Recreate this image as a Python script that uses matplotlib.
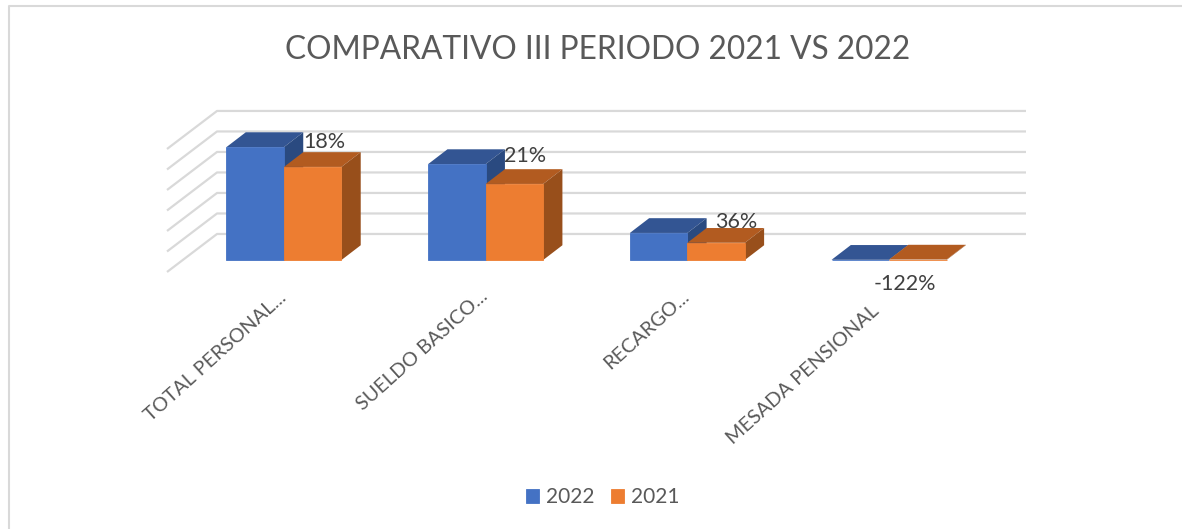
"""Comparativo III periodo 2021 vs 2022, Excel style 3D columns drawn on a 2D axes."""

import matplotlib
matplotlib.use('Agg')
import matplotlib.pyplot as plt
from matplotlib.lines import Line2D
from matplotlib.transforms import ScaledTranslation

plt.rcParams['font.family'] = ['Lato', 'DejaVu Sans']

categories = ['TOTAL PERSONAL...', 'SUELDO BASICO...', 'RECARGO...', 'MESADA PENSIONAL']
values_2022 = [551, 468, 132, 1]
values_2021 = [454, 371, 84, 2.2]
pct_labels = ['18%', '21%', '36%', '-122%']
grid_levels = [0, 100, 200, 300, 400, 500, 600]

W, H = 1182, 529
fig = plt.figure(figsize=(W / 100, H / 100), dpi=100)
# axes box in pixels: 167..1026 across, 111..272 down
ax = fig.add_axes([167 / W, 1 - 272 / H, (1026 - 167) / W, (272 - 111) / H])
ax.set_xlim(-0.58, 3.679)
ax.set_ylim(-58.5, 726.8)
ax.set_facecolor('none')
for s in ax.spines.values():
    s.set_visible(False)
ax.set_yticks([])

GRID = '#d9d9d9'
WALL_X, WALL_Y = -0.332, 127
FRONT_X, FRONT_Y = -0.58, -58.5
BAR_W = 0.285
DEPTH_X, DEPTH_Y = 0.0955, 72

# back wall and left wall lines
for g in grid_levels:
    ax.plot([FRONT_X, WALL_X, 3.679], [g + FRONT_Y, g + WALL_Y, g + WALL_Y],
            color=GRID, lw=1.6, clip_on=False, zorder=1, solid_capstyle='butt')


def depth_faces(x0, v, top_color, side_color, z):
    # top and right side of one column
    x1 = x0 + BAR_W
    ax.fill([x0, x1, x1 + DEPTH_X, x0 + DEPTH_X],
            [v, v, v + DEPTH_Y, v + DEPTH_Y], color=top_color, lw=0, zorder=z)
    ax.fill([x1, x1 + DEPTH_X, x1 + DEPTH_X, x1],
            [0, DEPTH_Y, v + DEPTH_Y, v], color=side_color, lw=0, zorder=z)


x_pos = list(range(len(categories)))
for i in x_pos:
    depth_faces(i - BAR_W, values_2022[i], '#335593', '#2a4a80', 2)
    depth_faces(i, values_2021[i], '#b25b20', '#984f1b', 4)

ax.bar([i - BAR_W / 2 for i in x_pos], values_2022, BAR_W, color='#4472c4',
       edgecolor='#4472c4', linewidth=0.6, label='2022', zorder=3)
ax.bar([i + BAR_W / 2 for i in x_pos], values_2021, BAR_W, color='#ed7d31',
       edgecolor='#ed7d31', linewidth=0.6, label='2021', zorder=5)

# data labels sit by hand next to the orange column, as in the original
label_shift = [(12, 25), (11, 28), (20, 21), (-13, -24)]
for i, txt in enumerate(pct_labels):
    ax.annotate(txt, (i + BAR_W / 2, values_2021[i]),
                xytext=(label_shift[i][0] * 0.72, label_shift[i][1] * 0.72),
                textcoords='offset points', ha='center', va='center',
                fontsize=15.5, color='#404040', zorder=6)

ax.set_xticks(x_pos)
ax.set_xticklabels(categories, rotation=42, ha='right', va='top',
                   rotation_mode='anchor', fontsize=14.3, color='#595959')
ax.tick_params(axis='x', length=0, pad=2)
# each label was nudged on its own by the original layout, pixels (right, up)
tick_shift = [(-6, -14), (-6, -12), (-6, -13), (-18, -27)]
for lab, (dx, dy) in zip(ax.get_xticklabels(), tick_shift):
    lab.set_transform(lab.get_transform() + ScaledTranslation(dx / 100, dy / 100, fig.dpi_scale_trans))

fig.text(598 / W, 1 - 50 / H, 'COMPARATIVO III PERIODO 2021 VS 2022',
         ha='center', va='center', fontsize=22.8, color='#595959')

handles, names = ax.get_legend_handles_labels()
fig.legend(handles, names, ncol=2, loc='center', bbox_to_anchor=(602.5 / W, 1 - 497 / H),
           frameon=False, fontsize=15, labelcolor='#595959', handlelength=0.65,
           handleheight=0.65, handletextpad=0.3, columnspacing=0.8)

# chart frame, only its top and left edges are in the crop
fig.add_artist(Line2D([1, 9 / W, 9 / W], [1 - 6 / H, 1 - 6 / H, 0], color=GRID, lw=1.5,
                      transform=fig.transFigure))

fig.savefig('out.png', dpi=100)
